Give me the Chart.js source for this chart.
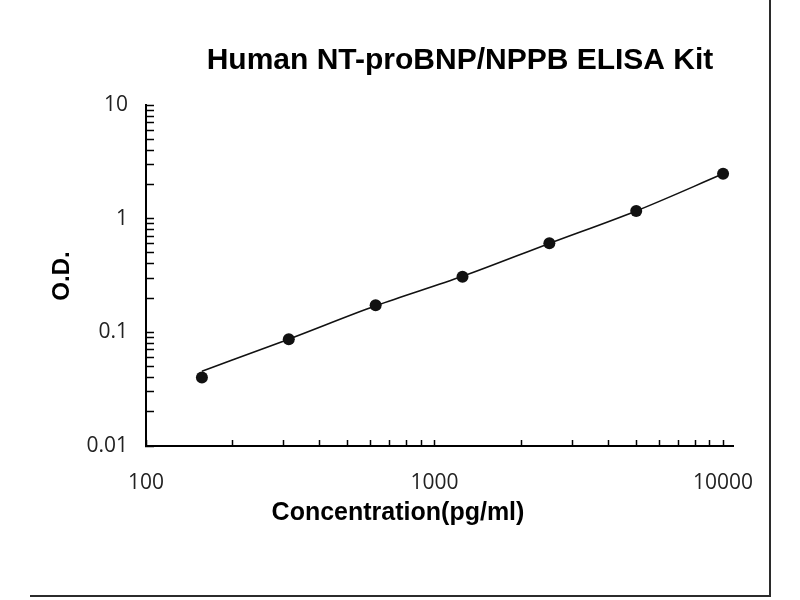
<!DOCTYPE html>
<html lang="en">
<head>
    <meta charset="utf-8" />
    <title>Human NT-proBNP/NPPB ELISA Kit</title>
    <script src="https://cdn.jsdelivr.net/npm/chart.js@4.4.0/dist/chart.umd.min.js"></script>
    <style>
        html, body { margin: 0; padding: 0; background: #fff; }
        #wrap { position: relative; width: 800px; height: 600px; overflow: hidden; }
        #frame {
            position: absolute; left: 30px; top: -2px; width: 739px; height: 597px;
            border-right: 2px solid #2b2b2b; border-bottom: 2px solid #2b2b2b;
            pointer-events: none;
        }
    </style>
</head>
<body>
    <div id="wrap">
        <canvas id="curve" width="800" height="600"></canvas>
        <div id="frame"></div>
    </div>
    <script>
        const chartTitle = 'Human NT-proBNP/NPPB ELISA Kit';
        const xTitle = 'Concentration(pg/ml)';
        const yTitle = 'O.D.';

        // standard points
        const concentrations = [156.25, 312.5, 625, 1250, 2500, 5000, 10000];
        const odValues = [0.040, 0.087, 0.173, 0.309, 0.608, 1.17, 2.48];
        // fitted curve at the same concentrations
        const fitValues = [0.0455, 0.087, 0.171, 0.311, 0.606, 1.17, 2.48];

        const xMajorTicks = [100, 1000, 10000];
        const xMinorTicks = [200, 300, 400, 500, 600, 700, 800, 900,
                             2000, 3000, 4000, 5000, 6000, 7000, 8000, 9000];
        const yMajorTicks = [0.01, 0.1, 1, 10];
        const yMinorTicks = [0.02, 0.03, 0.04, 0.05, 0.06, 0.07, 0.08, 0.09,
                             0.2, 0.3, 0.4, 0.5, 0.6, 0.7, 0.8, 0.9,
                             2, 3, 4, 5, 6, 7, 8, 9];

        const tickFont = { family: '"Open Sans", sans-serif', size: 21 };

        // titles placed like the original sheet
        const textPlugin = {
            id: 'kitTexts',
            afterDraw(chart) {
                const ctx = chart.ctx;
                ctx.save();
                ctx.fillStyle = '#000';
                ctx.textAlign = 'center';
                ctx.textBaseline = 'alphabetic';
                ctx.font = 'bold 30px "Liberation Sans", Arial, sans-serif';
                ctx.fillText(chartTitle, 460, 69);
                ctx.font = 'bold 25px "Liberation Sans", Arial, sans-serif';
                ctx.fillText(xTitle, 398, 520);
                ctx.font = 'bold 24px "Liberation Sans", Arial, sans-serif';
                ctx.translate(69, 276);
                ctx.rotate(-Math.PI / 2);
                ctx.fillText(yTitle, 0, 0);
                ctx.restore();
            }
        };

        const toTicks = (list) => list.slice().sort((a, b) => a - b).map(v => ({ value: v }));

        new Chart(document.getElementById('curve'), {
            type: 'scatter',
            data: {
                datasets: [{
                    label: 'fit',
                    data: concentrations.map((c, i) => ({ x: c, y: fitValues[i] })),
                    showLine: true,
                    borderColor: '#111',
                    borderWidth: 1.6,
                    pointRadius: 0,
                    cubicInterpolationMode: 'monotone',
                    order: 2
                }, {
                    label: 'standards',
                    data: concentrations.map((c, i) => ({ x: c, y: odValues[i] })),
                    backgroundColor: '#111',
                    borderWidth: 0,
                    pointRadius: 6,
                    order: 1
                }]
            },
            options: {
                responsive: false,
                animation: false,
                layout: { padding: { top: 105, right: 67, left: 0, bottom: 0 } },
                plugins: {
                    legend: { display: false },
                    title: { display: false },
                    tooltip: { enabled: false }
                },
                scales: {
                    x: {
                        type: 'logarithmic',
                        position: 'bottom',
                        min: 100,
                        max: 10824,
                        border: { display: true, color: '#000', width: 2 },
                        grid: {
                            drawOnChartArea: false,
                            drawTicks: true,
                            tickLength: -6,
                            tickWidth: 1.5,
                            tickColor: '#000'
                        },
                        ticks: {
                            autoSkip: false,
                            maxRotation: 0,
                            padding: 30,
                            color: '#222',
                            font: tickFont,
                            callback: (v) => xMajorTicks.includes(v) ? String(v) : ''
                        },
                        afterBuildTicks: (s) => { s.ticks = toTicks(xMajorTicks.concat(xMinorTicks)); },
                        afterFit: (s) => { s.height = 154; }
                    },
                    y: {
                        type: 'logarithmic',
                        position: 'left',
                        min: 0.01,
                        max: 10,
                        border: { display: true, color: '#000', width: 2 },
                        grid: {
                            drawOnChartArea: false,
                            drawTicks: true,
                            tickLength: -8,
                            tickWidth: 1.5,
                            tickColor: '#000'
                        },
                        ticks: {
                            autoSkip: false,
                            padding: 26,
                            color: '#222',
                            font: tickFont,
                            callback: (v) => yMajorTicks.includes(v) ? String(v) : ''
                        },
                        afterBuildTicks: (s) => { s.ticks = toTicks(yMajorTicks.concat(yMinorTicks)); },
                        afterFit: (s) => { s.width = 146; }
                    }
                }
            },
            plugins: [textPlugin]
        });
    </script>
</body>
</html>
